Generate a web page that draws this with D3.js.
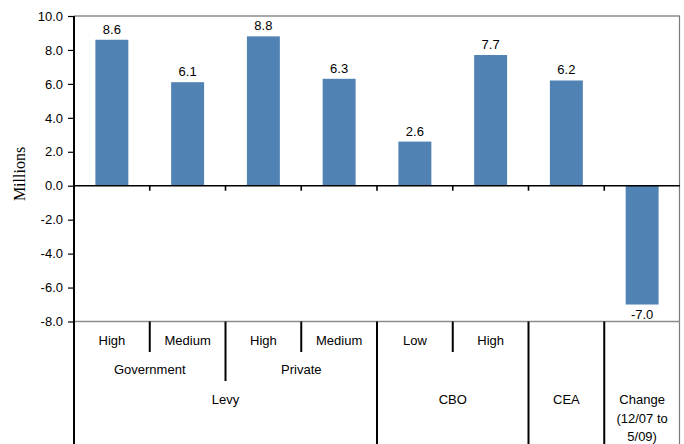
<!DOCTYPE html>
<html>
<head>
<meta charset="utf-8">
<script src="https://cdn.jsdelivr.net/npm/d3@7/dist/d3.min.js"></script>
<style>
  html, body { margin: 0; padding: 0; background: #fff; }
  svg { display: block; }
  text { font-family: "Liberation Sans", Arial, sans-serif; fill: #000; }
</style>
</head>
<body>
<svg id="chart" width="684" height="444"></svg>
<script>
// Estimates of job creation (millions) by source, with the actual change for comparison
const values = [8.6, 6.1, 8.8, 6.3, 2.6, 7.7, 6.2, -7.0];
const scenarioLabels = ["High", "Medium", "High", "Medium", "Low", "High", "", ""];
const sectorGroups = [
  { label: "Government", start: 0, end: 1 },
  { label: "Private", start: 2, end: 3 }
];
const sourceGroups = [
  { label: ["Levy"], start: 0, end: 3 },
  { label: ["CBO"], start: 4, end: 5 },
  { label: ["CEA"], start: 6, end: 6 },
  { label: ["Change", "(12/07 to", "5/09)"], start: 7, end: 7 }
];
const yTicks = [10, 8, 6, 4, 2, 0, -2, -4, -6, -8];

const svg = d3.select("#chart");
const plotLeft = 74, plotRight = 680, plotTop = 16, plotBottom = 321.5;

const x = d3.scaleBand()
  .domain(d3.range(values.length))
  .range([plotLeft, plotRight])
  .paddingInner(0.565)
  .paddingOuter(0.2825);
const step = x.step();
const edge = i => plotLeft + i * step;   // left boundary of category i

const y = d3.scaleLinear().domain([-8, 10]).range([plotBottom, plotTop]);

// plot frame (top, right and bottom edges)
svg.append("line").attr("x1", plotLeft).attr("x2", plotRight).attr("y1", plotTop).attr("y2", plotTop)
  .attr("stroke", "#8c8c8c").attr("stroke-width", 1.6);
svg.append("line").attr("x1", plotRight - 0.5).attr("x2", plotRight - 0.5).attr("y1", plotTop).attr("y2", 444)
  .attr("stroke", "#7a7a7a").attr("stroke-width", 1.2);
svg.append("line").attr("x1", plotLeft).attr("x2", plotRight).attr("y1", y(-8)).attr("y2", y(-8))
  .attr("stroke", "#8c8c8c").attr("stroke-width", 1.6);

// bars
svg.append("g").selectAll("rect").data(values).join("rect")
  .attr("x", (d, i) => x(i))
  .attr("width", x.bandwidth())
  .attr("y", d => y(Math.max(0, d)))
  .attr("height", d => Math.abs(y(d) - y(0)))
  .attr("fill", "#5082b4");

// value labels
svg.append("g").selectAll("text").data(values).join("text")
  .attr("x", (d, i) => x(i) + x.bandwidth() / 2)
  .attr("y", d => d >= 0 ? y(d) - 6 : y(d) + 14)
  .attr("text-anchor", "middle")
  .attr("font-size", 13)
  .text(d => d.toFixed(1));

// y axis
const yAxis = d3.axisLeft(y).tickValues(yTicks).tickSize(6).tickSizeOuter(0)
  .tickFormat(d => d.toFixed(1));
const yg = svg.append("g").attr("transform", `translate(${plotLeft},0)`).call(yAxis);
yg.select(".domain").remove();
yg.selectAll(".tick line").attr("stroke", "#000").attr("stroke-width", 1.2);
yg.selectAll(".tick text").attr("font-size", 13).attr("x", -11)
  .attr("font-family", "Liberation Sans, Arial, sans-serif").attr("fill", "#000");
svg.append("line").attr("x1", plotLeft).attr("x2", plotLeft).attr("y1", plotTop).attr("y2", 444)
  .attr("stroke", "#000").attr("stroke-width", 2);

// zero line with category ticks
svg.append("line").attr("x1", plotLeft).attr("x2", plotRight).attr("y1", y(0)).attr("y2", y(0))
  .attr("stroke", "#000").attr("stroke-width", 1.6);
svg.append("g").selectAll("line").data(d3.range(1, values.length)).join("line")
  .attr("x1", i => edge(i)).attr("x2", i => edge(i))
  .attr("y1", y(0)).attr("y2", y(0) + 5)
  .attr("stroke", "#000").attr("stroke-width", 1.6);

// y axis title
svg.append("text")
  .attr("transform", `translate(25,174) rotate(-90)`)
  .attr("text-anchor", "middle")
  .attr("font-size", 16)
  .style("font-family", "'Liberation Serif', 'Times New Roman', serif")
  .text("Millions");

// hierarchical category axis
const cat = svg.append("g");
const sep = (xPos, y2) => cat.append("line")
  .attr("x1", xPos).attr("x2", xPos).attr("y1", plotBottom).attr("y2", y2)
  .attr("stroke", "#000").attr("stroke-width", 2);

// level 1: scenario labels and separators inside each sector
scenarioLabels.forEach((lab, i) => {
  if (lab) cat.append("text").attr("x", x(i) + x.bandwidth() / 2).attr("y", 345)
    .attr("text-anchor", "middle").attr("font-size", 13).text(lab);
});
[1, 3, 5].forEach(i => sep(edge(i), 352));

// level 2: sector labels
sectorGroups.forEach(g => {
  cat.append("text").attr("x", (edge(g.start) + edge(g.end + 1)) / 2).attr("y", 374)
    .attr("text-anchor", "middle").attr("font-size", 13).text(g.label);
});
sep(edge(2), 381);

// level 3: source labels and full-height separators
sourceGroups.forEach(g => {
  const cx = (edge(g.start) + edge(g.end + 1)) / 2;
  g.label.forEach((line, k) => {
    cat.append("text").attr("x", cx).attr("y", 404 + k * 18.5)
      .attr("text-anchor", "middle").attr("font-size", 13).text(line);
  });
  if (g.start > 0) sep(edge(g.start), 444);
});
</script>
</body>
</html>
